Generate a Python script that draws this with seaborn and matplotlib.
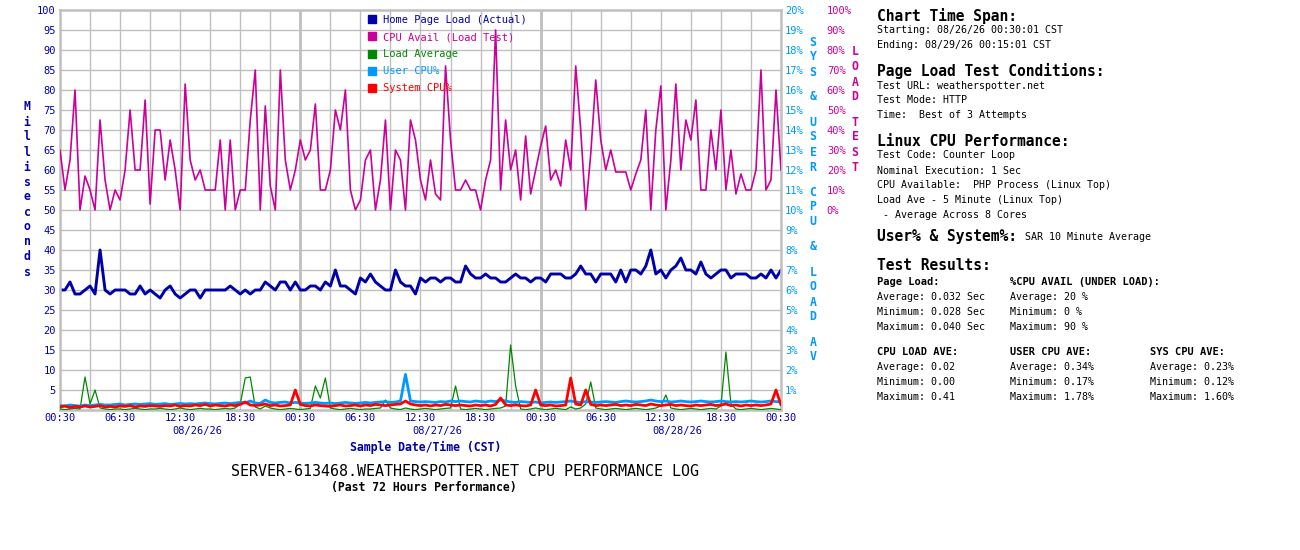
import numpy as np
import pandas as pd
import seaborn as sns
import matplotlib
matplotlib.use("Agg")
import matplotlib.pyplot as plt
from matplotlib.lines import Line2D
from matplotlib.ticker import FixedLocator

# ------------------------------------------------------------
# Data: 30 minute samples, 08/26/26 00:30 -> 08/29/26 00:30
# ------------------------------------------------------------
page_load_ms = [
    30, 30, 32, 29, 29, 30, 31, 29, 40, 30,
    29, 30, 30, 30, 29, 29, 31, 29, 30, 29,
    28, 30, 31, 29, 28, 29, 30, 30, 28, 30,
    30, 30, 30, 30, 31, 30, 29, 30, 29, 30,
    30, 32, 31, 30, 32, 32, 30, 32, 30, 30,
    31, 31, 30, 32, 31, 35, 31, 31, 30, 29,
    33, 32, 34, 32, 31, 30, 30, 35, 32, 31,
    31, 29, 33, 32, 33, 33, 32, 33, 33, 32,
    32, 36, 34, 33, 33, 34, 33, 33, 32, 32,
    33, 34, 33, 33, 32, 33, 33, 32, 34, 34,
    34, 33, 33, 34, 36, 34, 34, 32, 34, 34,
    34, 32, 35, 32, 35, 35, 34, 36, 40, 34,
    35, 33, 35, 36, 38, 35, 35, 34, 37, 34,
    33, 34, 35, 35, 33, 34, 34, 34, 33, 33,
    34, 33, 35, 33, 35,
]

cpu_avail_pct = [
    30, 10, 25, 60, 0, 17, 10, 0, 45, 15,
    0, 10, 5, 20, 50, 20, 20, 55, 3, 40,
    40, 15, 35, 20, 0, 63, 25, 15, 20, 10,
    10, 10, 35, 0, 35, 0, 10, 10, 45, 70,
    0, 52, 12, 0, 70, 25, 10, 20, 35, 25,
    30, 53, 10, 10, 20, 50, 40, 60, 10, 0,
    5, 25, 30, 0, 15, 45, 0, 30, 25, 0,
    45, 35, 15, 5, 25, 8, 5, 72, 35, 10,
    10, 15, 10, 10, 0, 15, 25, 90, 10, 45,
    20, 30, 5, 37, 8, 20, 32, 42, 15, 20,
    12, 35, 20, 72, 40, 0, 28, 65, 35, 20,
    30, 19, 19, 19, 10, 18, 25, 50, 0, 40,
    62, 0, 25, 63, 20, 45, 35, 55, 10, 10,
    40, 20, 50, 10, 30, 8, 18, 10, 10, 20,
    70, 10, 15, 60, 20,
]

load_avg_pct = [
    0.05, 0.02, 0.05, 0.08, 0.05, 1.65, 0.30, 1.00, 0.10, 0.05,
    0.02, 0.05, 0.05, 0.02, 0.05, 0.08, 0.05, 0.02, 0.05, 0.05,
    0.08, 0.05, 0.02, 0.05, 0.10, 0.05, 0.02, 0.05, 0.08, 0.05,
    0.05, 0.02, 0.05, 0.08, 0.05, 0.10, 0.30, 1.60, 1.65, 0.15,
    0.05, 0.20, 0.10, 0.05, 0.02, 0.05, 0.08, 0.05, 0.02, 0.05,
    0.08, 1.20, 0.60, 1.60, 0.10, 0.05, 0.02, 0.05, 0.08, 0.05,
    0.02, 0.05, 0.05, 0.08, 0.10, 0.50, 0.10, 0.05, 0.02, 0.10,
    0.05, 0.02, 0.05, 0.08, 0.05, 0.02, 0.05, 0.08, 0.10, 1.20,
    0.05, 0.02, 0.05, 0.08, 0.05, 0.02, 0.05, 0.08, 0.10, 0.20,
    3.25, 1.20, 0.05, 0.02, 0.05, 0.10, 0.05, 0.02, 0.05, 0.08,
    0.05, 0.02, 0.15, 0.05, 0.10, 0.30, 1.40, 0.10, 0.05, 0.02,
    0.05, 0.08, 0.05, 0.02, 0.05, 0.08, 0.05, 0.02, 0.05, 0.10,
    0.20, 0.75, 0.10, 0.05, 0.02, 0.05, 0.08, 0.05, 0.02, 0.05,
    0.08, 0.05, 0.20, 2.90, 0.30, 0.05, 0.02, 0.05, 0.08, 0.05,
    0.02, 0.05, 0.08, 0.05, 0.02,
]

user_cpu_pct = [
    0.22, 0.20, 0.25, 0.22, 0.20, 0.25, 0.22, 0.25, 0.28, 0.25,
    0.25, 0.28, 0.30, 0.25, 0.28, 0.30, 0.28, 0.30, 0.32, 0.28,
    0.30, 0.32, 0.28, 0.30, 0.33, 0.30, 0.32, 0.30, 0.33, 0.35,
    0.32, 0.30, 0.33, 0.35, 0.32, 0.35, 0.38, 0.35, 0.45, 0.35,
    0.33, 0.50, 0.38, 0.35, 0.38, 0.40, 0.35, 0.38, 0.35, 0.33,
    0.35, 0.38, 0.35, 0.33, 0.35, 0.32, 0.35, 0.38, 0.35, 0.33,
    0.35, 0.38, 0.35, 0.38, 0.40, 0.42, 0.38, 0.40, 0.45, 1.78,
    0.45, 0.42, 0.40, 0.42, 0.40, 0.38, 0.42, 0.40, 0.45, 0.42,
    0.45, 0.42, 0.40, 0.45, 0.42, 0.40, 0.45, 0.42, 0.50, 0.45,
    0.40, 0.38, 0.42, 0.40, 0.38, 0.40, 0.35, 0.38, 0.40, 0.38,
    0.40, 0.42, 0.45, 0.40, 0.38, 0.42, 0.40, 0.38, 0.40, 0.42,
    0.40, 0.38, 0.42, 0.45, 0.42, 0.40, 0.42, 0.45, 0.50, 0.45,
    0.42, 0.45, 0.40, 0.42, 0.45, 0.42, 0.40, 0.42, 0.45, 0.42,
    0.40, 0.42, 0.45, 0.42, 0.40, 0.42, 0.40, 0.42, 0.45, 0.42,
    0.40, 0.42, 0.45, 0.42, 0.40,
]

sys_cpu_pct = [
    0.15, 0.20, 0.12, 0.18, 0.15, 0.20, 0.15, 0.18, 0.22, 0.15,
    0.18, 0.15, 0.20, 0.18, 0.22, 0.15, 0.20, 0.18, 0.22, 0.20,
    0.18, 0.22, 0.20, 0.25, 0.18, 0.22, 0.20, 0.25, 0.22, 0.28,
    0.20, 0.25, 0.22, 0.20, 0.25, 0.22, 0.28, 0.40, 0.25, 0.22,
    0.25, 0.30, 0.22, 0.25, 0.20, 0.22, 0.25, 1.00, 0.28, 0.22,
    0.20, 0.25, 0.22, 0.20, 0.18, 0.22, 0.25, 0.20, 0.22, 0.25,
    0.20, 0.25, 0.22, 0.28, 0.25, 0.22, 0.25, 0.28, 0.30, 0.45,
    0.30, 0.25, 0.22, 0.25, 0.20, 0.25, 0.22, 0.28, 0.25, 0.22,
    0.25, 0.22, 0.20, 0.25, 0.22, 0.25, 0.20, 0.28, 0.60, 0.25,
    0.22, 0.25, 0.22, 0.20, 0.25, 1.00, 0.25, 0.22, 0.25, 0.20,
    0.22, 0.25, 1.60, 0.30, 0.25, 1.00, 0.28, 0.22, 0.25, 0.22,
    0.25, 0.28, 0.22, 0.25, 0.22, 0.28, 0.25, 0.22, 0.30, 0.25,
    0.22, 0.25, 0.28, 0.22, 0.25, 0.22, 0.20, 0.25, 0.22, 0.25,
    0.28, 0.22, 0.25, 0.30, 0.22, 0.25, 0.20, 0.25, 0.22, 0.25,
    0.22, 0.25, 0.30, 1.00, 0.25,
]

tick_labels = ["00:30", "06:30", "12:30", "18:30", "00:30", "06:30", "12:30",
               "18:30", "00:30", "06:30", "12:30", "18:30", "00:30"]
date_labels = ["08/26/26", "08/27/26", "08/28/26"]
series_names = ["Home Page Load (Actual)", "CPU Avail (Load Test)",
                "Load Average", "User CPU%", "System CPU%"]

# ------------------------------------------------------------
# Style
# ------------------------------------------------------------
NAVY = "#0000a8"
MAGENTA = "#cc0099"
GREEN = "#008800"
SKY = "#0099ff"
RED = "#ff0000"
GRID = "#c0c0c0"
MONO = "DejaVu Sans Mono"

sns.set_style("white")
plt.rcParams["font.family"] = [MONO, "DejaVu Sans"]

W, H = 1300, 550


def fx(px):
    return px / W


def fy(py):
    return 1 - py / H


def stack_letters(fig, word, x, y0, color, size=8.3):
    """Write a word as a column of letters (15 px per letter, 10 px per gap)."""
    y = y0
    for ch in word:
        if ch == " ":
            y += 10
            continue
        fig.text(fx(x), fy(y), ch, color=color, fontsize=size,
                 fontweight="bold", ha="center", va="center")
        y += 15


fig = plt.figure(figsize=(13, 5.5), dpi=100, facecolor="white")
ax = fig.add_axes([fx(60), fy(410), 721 / W, 400 / H])
ax2 = ax.twinx()
ax3 = ax.twinx()

hours = np.arange(len(page_load_ms)) * 0.5
df = pd.DataFrame({
    "hours": hours,
    "page": page_load_ms,
    "cpu": cpu_avail_pct,
    "load": load_avg_pct,
    "user": user_cpu_pct,
    "sys": sys_cpu_pct,
})

# ------------------------------------------------------------
# Lines
# ------------------------------------------------------------
sns.lineplot(data=df, x="hours", y="page", ax=ax, color=NAVY,
             linewidth=2.1, legend=False)
sns.lineplot(data=df, x="hours", y="load", ax=ax2, color=GREEN,
             linewidth=0.9, legend=False)
sns.lineplot(data=df, x="hours", y="user", ax=ax2, color=SKY,
             linewidth=2.0, legend=False)
sns.lineplot(data=df, x="hours", y="sys", ax=ax2, color=RED,
             linewidth=2.0, legend=False)
sns.lineplot(data=df, x="hours", y="cpu", ax=ax3, color=MAGENTA,
             linewidth=1.2, legend=False)

# ------------------------------------------------------------
# Axes, ticks, grid
# ------------------------------------------------------------
tick_hours = np.arange(len(tick_labels)) * 6
for a in (ax, ax2, ax3):
    a.set_xlim(tick_hours[0], tick_hours[-1])
    a.set_xlabel("")
    a.set_ylabel("")
    for s in a.spines.values():
        s.set_visible(False)

ax.set_ylim(0, 100)
ax2.set_ylim(0, 20)
ax3.set_ylim(-100, 100)

ax.set_yticks(np.arange(5, 101, 5))
ax.set_yticklabels([str(v) for v in range(5, 101, 5)])
ax.set_xticks(tick_hours)
ax.set_xticklabels(tick_labels)
ax.xaxis.set_minor_locator(FixedLocator(tick_hours[:-1] + 3))
ax.tick_params(axis="both", which="both", length=0, labelsize=7.5,
               labelcolor=NAVY, pad=3)
ax.tick_params(axis="x", pad=2)
ax.grid(True, which="both", color=GRID, linewidth=1.0)
ax.set_axisbelow(True)

for s in ax.spines.values():
    s.set_visible(True)
    s.set_color(GRID)
    s.set_linewidth(1.8)

# heavier lines at the day boundaries
for h, lab in zip(tick_hours[1:-1], tick_labels[1:-1]):
    if lab == "00:30":
        ax.axvline(h, color=GRID, linewidth=2.0, zorder=0.5)

ax2.set_yticks(np.arange(1, 21))
ax2.set_yticklabels([f"{v}%" for v in range(1, 21)])
ax2.tick_params(axis="y", length=0, labelsize=7.5, labelcolor=SKY, pad=3)

ax3.set_yticks(np.arange(0, 101, 10))
ax3.set_yticklabels([f"{v}%" for v in range(0, 101, 10)])
ax3.spines["right"].set_position(("outward", 30))
ax3.tick_params(axis="y", length=0, labelsize=7.5, labelcolor=MAGENTA, pad=3)

# date row under the time labels
for lab, h in zip(date_labels, tick_hours[2::4]):
    ax.text(h + 1.7, -0.052, lab, transform=ax.get_xaxis_transform(),
            ha="center", va="center", fontsize=7.5, color=NAVY)

# ------------------------------------------------------------
# Legend
# ------------------------------------------------------------
colors = [NAVY, MAGENTA, GREEN, SKY, RED]
handles = [Line2D([0], [0], marker="s", linestyle="", markersize=6,
                  color=c) for c in colors]
ax3.legend(handles, series_names, loc="upper left",
           bbox_to_anchor=(fx(368), fy(15)), bbox_transform=fig.transFigure,
           frameon=False, fontsize=7.5, labelcolor=colors, borderpad=0,
           borderaxespad=0, handlelength=0.8, handletextpad=0.6,
           labelspacing=0.68)

# ------------------------------------------------------------
# Axis titles and chart titles
# ------------------------------------------------------------
stack_letters(fig, "Milliseconds", 27, 107, NAVY)
stack_letters(fig, "SYS & USER CPU & LOAD AV", 813, 42, SKY)
stack_letters(fig, "LOAD TEST", 855, 52, MAGENTA)

fig.text(fx(426), fy(447), "Sample Date/Time (CST)", ha="center",
         va="center", fontsize=8.3, fontweight="bold", color=NAVY)
fig.text(fx(465), fy(471), "SERVER-613468.WEATHERSPOTTER.NET CPU PERFORMANCE LOG",
         ha="center", va="center", fontsize=10.8, color="black")
fig.text(fx(424), fy(487), "(Past 72 Hours Performance)", ha="center",
         va="center", fontsize=8.3, fontweight="bold", color="black")

# ------------------------------------------------------------
# Side panel
# ------------------------------------------------------------
HEAD = dict(fontsize=10.5, fontweight="bold", color="black", va="center")
BODY = dict(fontsize=7.2, color="black", va="center")
SUB = dict(fontsize=7.5, fontweight="bold", color="black", va="center")

fig.text(fx(877), fy(16), "Chart Time Span:", **HEAD)
fig.text(fx(877), fy(30), "Starting: 08/26/26 00:30:01 CST", **BODY)
fig.text(fx(877), fy(44.5), "Ending: 08/29/26 00:15:01 CST", **BODY)

fig.text(fx(877), fy(71), "Page Load Test Conditions:", **HEAD)
fig.text(fx(877), fy(85.5), "Test URL: weatherspotter.net", **BODY)
fig.text(fx(877), fy(100), "Test Mode: HTTP", **BODY)
fig.text(fx(877), fy(115), "Time:  Best of 3 Attempts", **BODY)

fig.text(fx(877), fy(141.5), "Linux CPU Performance:", **HEAD)
fig.text(fx(877), fy(155.5), "Test Code: Counter Loop", **BODY)
fig.text(fx(877), fy(170.5), "Nominal Execution: 1 Sec", **BODY)
fig.text(fx(877), fy(185), "CPU Available:  PHP Process (Linux Top)", **BODY)
fig.text(fx(877), fy(200), "Load Ave - 5 Minute (Linux Top)", **BODY)
fig.text(fx(877), fy(215), " - Average Across 8 Cores", **BODY)

fig.text(fx(877), fy(236.5), "User% & System%:", **HEAD)
fig.text(fx(1025), fy(237), "SAR 10 Minute Average", **BODY)

fig.text(fx(877), fy(266), "Test Results:", **HEAD)
fig.text(fx(877), fy(282), "Page Load:", **SUB)
fig.text(fx(1010), fy(282), "%CPU AVAIL (UNDER LOAD):", **SUB)
fig.text(fx(877), fy(297), "Average: 0.032 Sec", **BODY)
fig.text(fx(877), fy(312), "Minimum: 0.028 Sec", **BODY)
fig.text(fx(877), fy(327), "Maximum: 0.040 Sec", **BODY)
fig.text(fx(1010), fy(297), "Average: 20 %", **BODY)
fig.text(fx(1010), fy(312), "Minimum: 0 %", **BODY)
fig.text(fx(1010), fy(327), "Maximum: 90 %", **BODY)

fig.text(fx(877), fy(352), "CPU LOAD AVE:", **SUB)
fig.text(fx(1010), fy(352), "USER CPU AVE:", **SUB)
fig.text(fx(1150), fy(352), "SYS CPU AVE:", **SUB)
fig.text(fx(877), fy(367), "Average: 0.02", **BODY)
fig.text(fx(877), fy(382), "Minimum: 0.00", **BODY)
fig.text(fx(877), fy(397), "Maximum: 0.41", **BODY)
fig.text(fx(1010), fy(367), "Average: 0.34%", **BODY)
fig.text(fx(1010), fy(382), "Minimum: 0.17%", **BODY)
fig.text(fx(1010), fy(397), "Maximum: 1.78%", **BODY)
fig.text(fx(1150), fy(367), "Average: 0.23%", **BODY)
fig.text(fx(1150), fy(382), "Minimum: 0.12%", **BODY)
fig.text(fx(1150), fy(397), "Maximum: 1.60%", **BODY)

fig.savefig("out.png", dpi=100, facecolor="white")
